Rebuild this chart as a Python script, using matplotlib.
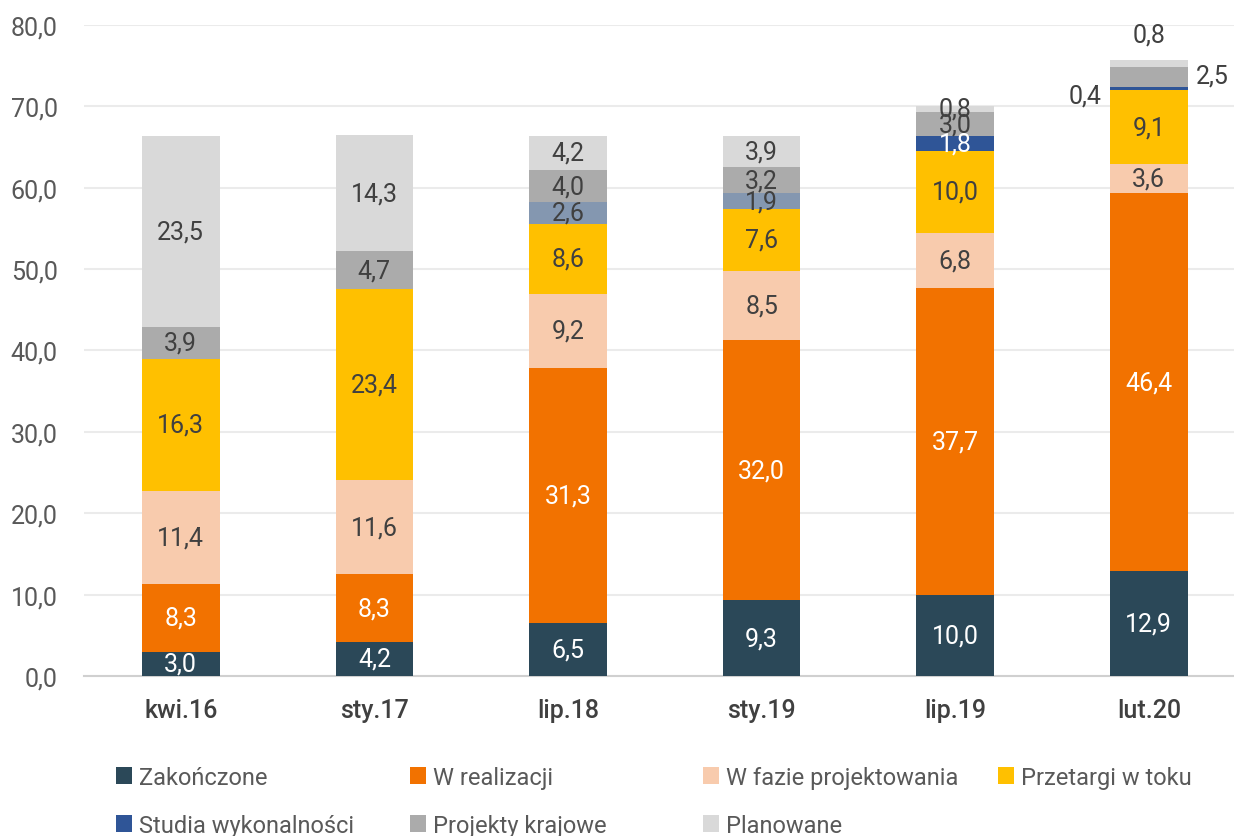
import numpy as np
import matplotlib
matplotlib.use('Agg')
import matplotlib.pyplot as plt
from matplotlib.patches import Patch

plt.rcParams['font.family'] = ['Roboto', 'DejaVu Sans']

# ============ dane ============
categories = ['kwi.16', 'sty.17', 'lip.18', 'sty.19', 'lip.19', 'lut.20']

zakonczone = [3.0, 4.2, 6.5, 9.3, 10.0, 12.9]
w_realizacji = [8.3, 8.3, 31.3, 32.0, 37.7, 46.4]
w_fazie = [11.4, 11.6, 9.2, 8.5, 6.8, 3.6]
przetargi = [16.3, 23.4, 8.6, 7.6, 10.0, 9.1]
studia = [0.0, 0.0, 2.6, 1.9, 1.8, 0.4]
krajowe = [3.9, 4.7, 4.0, 3.2, 3.0, 2.5]
planowane = [23.5, 14.3, 4.2, 3.9, 0.8, 0.8]

series = [
    ('Zakończone', zakonczone, '#2B4858', 'white'),
    ('W realizacji', w_realizacji, '#F27200', 'white'),
    ('W fazie projektowania', w_fazie, '#F8CBAD', '#404040'),
    ('Przetargi w toku', przetargi, '#FFC000', '#404040'),
    ('Studia wykonalności', studia, '#2F5597', '#404040'),
    ('Projekty krajowe', krajowe, '#ABABAB', '#404040'),
    ('Planowane', planowane, '#D9D9D9', '#404040'),
]
# studia - inny odcien w starszych notowaniach
studia_colors = ['#8497B0', '#8497B0', '#8497B0', '#8497B0', '#2F5597', '#2F5597']
studia_txt = ['#404040', '#404040', '#404040', '#404040', 'white', '#404040']

TXT = '#595959'
FS = 18

fig = plt.figure(figsize=(12.34, 8.37), dpi=100)
ax = fig.add_axes([84 / 1234, 1 - 677 / 837, (1234 - 84) / 1234, (677 - 26) / 837])

x = np.arange(len(categories))
width = 0.4
bottom = np.zeros(len(categories))

for name, vals, col, tcol in series:
    vals = np.array(vals)
    if name == 'Studia wykonalności':
        colors = studia_colors
    else:
        colors = [col] * len(vals)
    ax.bar(x, vals, width, bottom=bottom, color=colors, zorder=3)
    for i, v in enumerate(vals):
        if v <= 0:
            continue
        c = studia_txt[i] if name == 'Studia wykonalności' else tcol
        yc = bottom[i] + v / 2
        lab = f'{v:.1f}'.replace('.', ',')
        dx, dy = 0, 0
        if categories[i] == 'lut.20' and name == 'Studia wykonalności':
            dx, dy = -0.33, -0.9
        elif categories[i] == 'lut.20' and name == 'Projekty krajowe':
            dx, dy = 0.33, 0.2
        elif categories[i] == 'lut.20' and name == 'Planowane':
            dx, dy = 0.0, 3.5
        if dx != 0 or dy != 0:
            c = '#404040'
        ax.text(x[i] + dx, yc + dy, lab, ha='center', va='center',
                fontsize=FS, color=c, zorder=4)
    bottom += vals

ax.set_xlim(-0.5, 5.44)
ax.set_ylim(0, 80)
ax.set_yticks(np.arange(0, 81, 10))
ax.set_yticklabels([f'{t:.1f}'.replace('.', ',') for t in np.arange(0, 81, 10)])
ax.set_xticks(x)
ax.set_xticklabels(categories, fontweight='medium')
ax.tick_params(axis='y', length=0, labelsize=FS, labelcolor=TXT, pad=19)
ax.tick_params(axis='x', length=0, labelsize=FS, labelcolor='#404040', pad=16)
ax.grid(axis='y', color='#EBEBEB', linewidth=1.5, zorder=0)
for s in ['top', 'right', 'left']:
    ax.spines[s].set_visible(False)
ax.spines['bottom'].set_color('#D0D0D0')
ax.spines['bottom'].set_linewidth(1.5)

# legenda - 4 kolumny ustawione recznie
col_x = [104, 398, 691, 986]
cols = [[0, 4], [1, 5], [2, 6], [3]]
for cx, idx in zip(col_x, cols):
    handles = [Patch(facecolor=series[k][2], label=series[k][0]) for k in idx]
    fig.legend(handles=handles, loc='upper left',
               bbox_to_anchor=(cx / 1234, 1 - 755 / 837), frameon=False,
               fontsize=17, handlelength=0.7, handleheight=0.7,
               handletextpad=0.3, labelspacing=1.05, borderpad=0,
               labelcolor=TXT)

fig.savefig('out.png', dpi=100, facecolor='white')
